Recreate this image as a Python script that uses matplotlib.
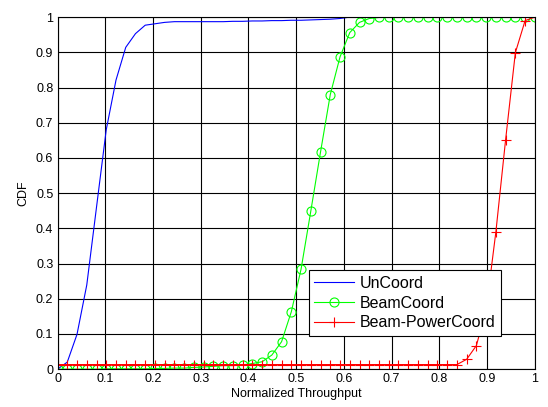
import numpy as np
import matplotlib
matplotlib.use("Agg")
import matplotlib.pyplot as plt

plt.rcParams['font.family'] = ['Liberation Sans', 'DejaVu Sans']

# 50 throughput samples between 0 and 1
throughput = np.linspace(0, 1, 50)

uncoord = [0.0, 0.02, 0.099, 0.239, 0.46, 0.68, 0.821, 0.914, 0.953, 0.977,
           0.981, 0.985, 0.987, 0.987, 0.987, 0.987, 0.987, 0.987, 0.988, 0.988,
           0.989, 0.989, 0.990, 0.990, 0.991, 0.991, 0.992, 0.993, 0.994, 0.996,
           1.0, 1.0, 1.0, 1.0, 1.0, 1.0, 1.0, 1.0, 1.0, 1.0,
           1.0, 1.0, 1.0, 1.0, 1.0, 1.0, 1.0, 1.0, 1.0, 1.0]

beamcoord = [0.0, 0.0, 0.0, 0.0, 0.0, 0.001, 0.001, 0.001, 0.001, 0.001,
             0.002, 0.002, 0.003, 0.003, 0.005, 0.006, 0.008, 0.010, 0.010, 0.012,
             0.016, 0.021, 0.040, 0.078, 0.163, 0.284, 0.449, 0.617, 0.780, 0.887,
             0.956, 0.985, 0.996, 0.999, 0.999, 0.999, 0.999, 0.999, 0.999, 0.999,
             0.999, 0.999, 0.999, 0.999, 0.999, 0.999, 0.999, 0.999, 0.999, 1.0]

beampower = [0.013] * 42 + [0.028, 0.067, 0.17, 0.39, 0.652, 0.899, 0.99, 1.0]

labels = ["UnCoord", "BeamCoord", "Beam-PowerCoord"]
ticklabels = ["0", "0.1", "0.2", "0.3", "0.4", "0.5", "0.6", "0.7", "0.8", "0.9", "1"]

fig = plt.figure(figsize=(5.48, 4.07), dpi=100)
ax = fig.add_axes([0.105, 0.093, 0.871, 0.865])

ax.plot(throughput, uncoord, color=(0, 0, 1), lw=0.8, label=labels[0])
ax.plot(throughput, beamcoord, color=(0, 1, 0), lw=0.8, marker='o',
        ms=6.5, mfc='none', mew=0.8, label=labels[1])
ax.plot(throughput, beampower, color=(1, 0, 0), lw=0.8, marker='+',
        ms=7, mew=0.8, label=labels[2])

ax.set_xlim(0, 1)
ax.set_ylim(0, 1)
ax.set_xticks(np.arange(0, 1.01, 0.1))
ax.set_yticks(np.arange(0, 1.01, 0.1))
ax.set_xticklabels(ticklabels)
ax.set_yticklabels(ticklabels)
ax.tick_params(direction='in', length=3, width=0.6, labelsize=9, top=True, right=True, pad=3)
ax.grid(True, color='black', linestyle='-', linewidth=0.8)
for s in ax.spines.values():
    s.set_linewidth(0.8)

ax.set_xlabel("Normalized Throughput", fontsize=9, labelpad=2)
ax.set_ylabel("CDF", fontsize=9, labelpad=5)

leg = ax.legend(loc='lower right', bbox_to_anchor=(0.929, 0.094), borderaxespad=0,
                fontsize=11.5, fancybox=False, framealpha=1, edgecolor='black',
                handlelength=2.5, handletextpad=0.35, labelspacing=0.3,
                borderpad=0.35)
leg.get_frame().set_linewidth(0.8)

fig.savefig("out.png", dpi=100)
